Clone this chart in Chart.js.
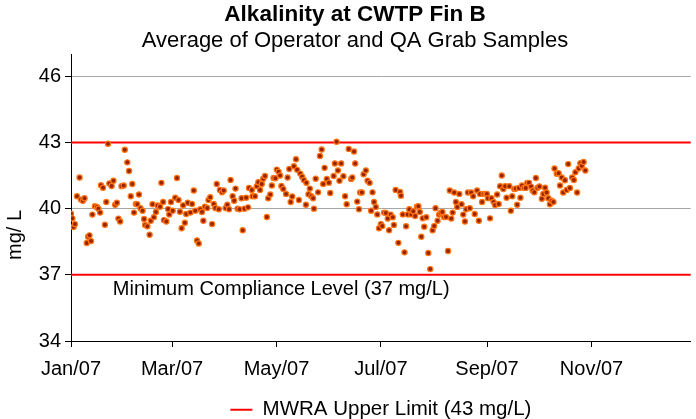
<!DOCTYPE html>
<html>
<head>
<meta charset="utf-8">
<script src="https://cdn.jsdelivr.net/npm/chart.js@4.4.1/dist/chart.umd.min.js"></script>
<style>
  html, body { margin: 0; padding: 0; background: #fff; overflow: hidden; }
  #wrap { width: 696px; height: 419px; }
</style>
</head>
<body>
<div id="wrap"><canvas id="myChart"></canvas></div>
<script>
// days after Jan 1 2007
var sampleDays = [
  0.0, 0.8, 1.5, 2.3, 3.5, 5.0, 5.8, 6.9, 7.9, 9.2, 10.0, 10.8, 11.7, 12.5, 14.0, 15.2, 16.0, 17.0, 17.5, 18.7,
  19.8, 20.6, 21.6, 22.4, 23.7, 24.8, 25.8, 26.8, 27.7, 28.7, 29.5, 30.8, 31.4, 32.9, 33.9, 34.9, 35.8, 36.8, 37.9, 38.7,
  39.7, 40.6, 41.8, 42.7, 43.3, 44.6, 45.9, 46.6, 47.6, 48.4, 49.6, 50.6,
  52.0, 52.8, 53.8, 54.3, 55.7, 56.7, 57.4, 58.4, 59.4, 60.9, 61.9, 62.8, 63.6, 64.6, 65.5, 66.5, 67.3, 68.2,
  69.7, 70.7, 71.7, 72.6, 73.6, 74.6, 75.5, 76.5, 77.3, 78.2, 79.6, 80.3, 81.3, 82.4, 83.4, 84.3, 85.1, 86.3,
  87.0, 88.2, 89.2, 90.3, 91.3, 92.3, 93.2, 94.4, 95.3, 96.1, 97.3, 98.4, 99.6, 100.3, 101.3, 102.3, 103.4, 104.0,
  105.6, 106.0, 107.5, 108.5, 109.4, 110.4, 111.4, 112.3, 113.3, 114.4, 115.2, 116.4, 117.3, 118.3, 119.4, 120.2,
  121.2, 122.1, 122.9, 124.0, 125.6, 126.5, 127.5, 128.3, 129.2, 130.2, 131.4, 132.1, 133.1, 133.9, 135.0, 136.0,
  137.2, 137.5, 138.7, 139.5, 140.4, 141.4, 141.9, 142.9, 144.3, 145.4, 146.4, 147.3, 148.1, 149.4, 150.6, 151.4,
  153.4, 154.1, 155.1, 155.9, 156.8, 157.8,
  159.1, 160.1, 161.0, 162.2, 163.6, 164.3, 165.3, 166.0, 167.2, 168.2, 168.9, 169.9, 170.9, 172.2, 173.2, 174.4,
  175.3, 176.1, 177.0, 178.0, 178.9, 179.9, 181.0, 181.8, 182.9, 183.9, 185.0, 185.8, 186.7, 187.9, 188.6, 189.6,
  191.2, 192.2, 192.7, 193.8, 194.8, 195.7, 196.7, 197.6, 198.8, 199.9, 201.0, 202.0, 202.9, 203.7, 204.6, 205.4,
  206.3, 207.5, 208.7, 209.8,
  211.2, 212.1, 212.9, 214.1, 215.0, 215.9, 216.9, 217.9, 219.0, 220.2, 221.2, 222.1, 222.9, 223.8, 224.8, 225.6,
  226.8, 228.1, 229.1, 230.1, 230.8, 231.8, 232.9, 233.7, 234.9, 235.8, 237.2, 238.2, 238.9, 240.1, 241.0, 242.2,
  242.9, 243.5, 244.7, 245.6, 246.8, 247.7, 248.9, 249.8, 250.6, 251.6, 252.5, 253.6, 254.4, 256.0, 256.9, 257.7,
  258.9, 259.8, 260.6, 261.6, 262.5, 263.4, 264.6, 265.6, 266.5, 267.5, 268.7, 269.6, 270.6, 271.5, 272.5,
  273.6, 275.0, 275.9, 276.9, 277.8, 278.8, 279.7, 280.7, 281.8, 282.4, 283.7, 284.8, 285.6, 286.6, 287.5, 288.5,
  289.5, 290.4, 291.4, 292.7, 293.7, 294.6, 295.6, 296.5, 297.5, 298.3, 299.4, 300.4
];

// mg/L
var alkalinity = [
  39.77, 39.56, 39.17, 39.30, 40.56, 41.41, 40.41, 40.36, 40.47, 38.44, 38.73, 38.79, 38.53, 39.73, 40.11, 40.08, 40.00, 39.82, 41.06, 40.95,
  39.27, 40.30, 42.94, 41.14, 41.03, 41.27, 40.18, 40.27, 39.55, 39.42, 41.02, 41.05, 42.67, 42.10, 41.71, 40.56, 41.12, 39.82, 40.21, 40.20,
  40.64, 40.02, 39.91, 39.53, 39.26, 39.20, 38.82, 39.45, 40.20, 39.61, 39.85, 40.14,
  40.09, 41.17, 40.30, 39.48, 39.42, 39.98, 39.73, 40.30, 39.91, 40.50, 41.39, 40.39, 39.86, 39.11, 40.15, 39.36, 39.76, 40.27,
  39.82, 40.21, 40.82, 39.91, 38.56, 38.42, 39.97, 39.85, 39.45, 40.09, 40.03, 40.39, 40.52, 39.30, 40.21, 40.03, 41.12, 39.97,
  40.85, 40.74, 40.82, 40.03, 40.18, 39.97, 41.30, 40.56, 40.36, 40.91, 40.00, 39.97, 40.47, 39.02, 40.00, 40.50, 40.06, 40.94,
  40.85, 40.56, 40.56, 41.02, 41.20, 40.85, 41.12, 41.36, 41.48, 39.62, 40.47, 40.64, 41.05, 41.39, 41.38, 41.77,
  41.67, 41.50, 41.03, 40.89, 40.67, 41.41, 41.80, 40.30, 40.55, 41.92, 42.24, 41.76, 40.39, 41.59, 41.45, 41.30,
  40.18, 41.17, 40.65, 40.91, 40.56, 40.47, 40.00, 41.36, 40.74, 42.39, 42.68, 41.12, 41.85, 41.35, 41.18, 40.71,
  41.48, 42.05, 43.03, 41.73, 41.27, 42.05,
  41.47, 40.56, 40.20, 42.71, 41.35, 41.41, 42.59, 42.05, 40.32, 39.97, 40.73, 40.73, 41.56, 41.73, 41.27, 41.17,
  39.91, 40.74, 40.30, 40.08, 39.74, 39.11, 39.30, 39.21, 39.82, 39.80, 39.55, 39.02, 39.73, 39.61, 39.26, 40.85,
  38.45, 40.76, 40.59, 39.74, 38.02, 39.20, 39.74, 39.97, 39.74, 39.88, 39.67, 40.09, 40.11, 39.85, 38.73, 39.56,
  39.18, 39.61, 37.99, 37.26,
  39.02, 39.21, 40.02, 39.45, 39.73, 39.80, 39.85, 39.62, 39.62, 38.08, 40.82, 39.55, 39.82, 40.73, 40.30, 40.08,
  40.67, 40.20, 39.73, 39.42, 39.97, 40.73, 40.02, 40.73, 40.56, 39.76, 40.82, 39.45, 40.67, 40.30, 40.67, 40.67,
  40.67, 40.47, 39.56, 40.47, 40.30, 40.17, 40.64, 40.21, 41.02, 41.50, 40.89, 41.02, 40.50, 41.02, 39.91, 40.56,
  40.89, 40.91, 40.18, 40.94, 40.50, 41.05, 40.94, 40.94, 41.17, 41.17, 41.00, 40.82, 40.74, 41.39, 40.95,
  41.01, 40.45, 40.67, 40.95, 40.73, 40.47, 40.20, 40.36, 40.30, 41.82, 41.58, 41.61, 41.05, 41.41, 40.73, 41.29,
  40.85, 42.02, 40.94, 41.41, 41.30, 41.65, 40.73, 41.82, 42.06, 41.94, 42.12, 41.73
];

var monthTicks = [0, 59, 120, 181, 243, 304];
var monthLabels = ["Jan/07", "Mar/07", "May/07", "Jul/07", "Sep/07", "Nov/07"];
var yTicks = [34, 37, 40, 43, 46];
var dayRange = [0, 362];
var upperLimit = 43;
var lowerLimit = 37;

var fontFamily = "'Liberation Sans', Arial, sans-serif";

var points = sampleDays.map(function (d, i) {
  return { x: d, y: alkalinity[i] };
});

function flatLine(v) {
  return [{ x: dayRange[0], y: v }, { x: dayRange[1], y: v }];
}

// extra text: y axis title and the lower limit note
var extraText = {
  id: "extraText",
  afterDraw: function (chart) {
    var c = chart.ctx;
    var xs = chart.scales.x, ys = chart.scales.y;
    c.save();
    c.fillStyle = "#000";
    c.font = "20px " + fontFamily;
    c.textBaseline = "middle";
    c.textAlign = "left";
    c.fillText("Minimum Compliance Level (37 mg/L)", xs.getPixelForValue(24.4), ys.getPixelForValue(36.32));
    c.translate(15, 235);
    c.rotate(-Math.PI / 2);
    c.textAlign = "center";
    c.fillText("mg/ L", 0, 0);
    c.restore();
  }
};

var data = {
  datasets: [
    {
      type: "scatter",
      label: "Alkalinity",
      data: points,
      pointRadius: 2.6,
      pointBorderWidth: 1.2,
      pointBackgroundColor: "#992500",
      pointBorderColor: "#ff7414",
    },
    {
      type: "line",
      label: "MWRA Upper Limit (43 mg/L)",
      data: flatLine(upperLimit),
      borderColor: "#ff0000",
      backgroundColor: "#ff0000",
      borderWidth: 2,
      pointRadius: 0,
    },
    {
      type: "line",
      label: "Minimum Compliance Level",
      data: flatLine(lowerLimit),
      borderColor: "#ff0000",
      borderWidth: 2,
      pointRadius: 0,
    },
  ],
};

var options = {
  responsive: true,
  maintainAspectRatio: false,
  animation: false,
  // left padding nudges the titles right, negative bottom lets the legend sit lower
  layout: { padding: { top: 0, left: 14, right: 0, bottom: -11 } },
  plugins: {
    title: {
      display: true,
      text: "Alkalinity at CWTP Fin B",
      color: "#000",
      font: { family: fontFamily, size: 22.5, weight: "bold", lineHeight: 1.1 },
      padding: { top: 2, bottom: 0 },
    },
    subtitle: {
      display: true,
      text: "Average of Operator and QA Grab Samples",
      color: "#000",
      font: { family: fontFamily, size: 22, lineHeight: 1.1 },
      padding: { top: 2, bottom: 1.3 },
    },
    legend: {
      position: "bottom",
      fullSize: false,
      labels: {
        color: "#000",
        font: { family: fontFamily, size: 20.5 },
        usePointStyle: true,
        pointStyle: "line",
        pointStyleWidth: 22,
        padding: 1,
        filter: function (item) {
          return item.text.indexOf("MWRA") === 0;
        },
      },
    },
    tooltip: { enabled: false },
  },
  scales: {
    x: {
      type: "linear",
      min: dayRange[0],
      max: dayRange[1],
      afterBuildTicks: function (scale) {
        scale.ticks = monthTicks.map(function (v) { return { value: v }; });
      },
      afterFit: function (scale) {
        scale.height = 57.5;
      },
      ticks: {
        color: "#000",
        font: { family: fontFamily, size: 20 },
        maxRotation: 0,
        autoSkip: false,
        padding: 10,
        callback: function (v, i) { return monthLabels[i]; },
      },
      grid: { drawOnChartArea: false, tickLength: 6, tickColor: "#000" },
      border: { color: "#000", width: 1 },
    },
    y: {
      min: 34,
      max: 47,
      afterBuildTicks: function (scale) {
        scale.ticks = yTicks.map(function (v) { return { value: v }; });
      },
      afterFit: function (scale) {
        scale.width = 57;
      },
      ticks: {
        color: "#000",
        font: { family: fontFamily, size: 20 },
        padding: 4,
      },
      grid: { color: "#a6a6a6", tickLength: 6, tickColor: "#000" },
      border: { color: "#000", width: 1 },
    },
  },
};

const ctx = document.getElementById("myChart").getContext("2d");
const myChart = new Chart(ctx, {
  type: "scatter",
  data: data,
  options: options,
  plugins: [extraText],
});
</script>
</body>
</html>
